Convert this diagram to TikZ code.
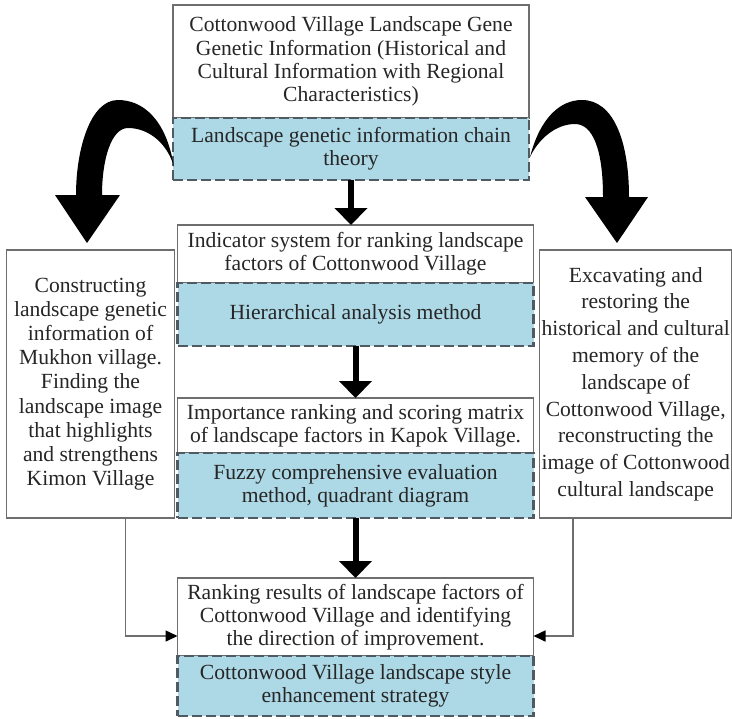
\documentclass[tikz,border=0pt]{standalone}
\usepackage{fontspec}
\setmainfont{Liberation Serif}
\usepackage{xcolor}
\definecolor{cLine}{HTML}{6E6E6E}
\definecolor{cDash}{HTML}{505A63}
\definecolor{cFill}{HTML}{ADD8E6}
\definecolor{cText}{HTML}{262626}
\usepackage{tikz}
\usetikzlibrary{positioning,arrows.meta,calc}
\tikzset{
  node-info/.style={draw=cLine,line width=0.7pt,fill=white,minimum width=178pt,
    inner sep=1pt,outer sep=0pt,align=center,text=cText,font=\fontsize{10.8}{11.6}\selectfont},
  node-method/.style={node-info,draw=cDash,fill=cFill,line width=1.1pt,
    dash pattern=on 5pt off 2pt},
  node-side/.style={node-info,minimum height=134pt},
  arrow-fat/.style={-{Triangle[length=8.5pt,width=16pt]},line width=3pt,draw=black},
  arrow-thin/.style={-{Triangle[length=6pt,width=5.5pt,color=black]},line width=0.8pt,draw=cLine},
  % 两侧的弯曲粗箭头
  arrow-bend/.style={fill=black,draw=none},
}

\begin{document}
\begin{tikzpicture}[x=0.5pt,y=-0.5pt,node distance=0pt]
  \useasboundingbox (0,0) rectangle (732,718);
  \node[node-info,minimum height=56.5pt,anchor=north] (g1) at (351,5)
    {Cottonwood Village Landscape Gene\\Genetic Information (Historical and\\Cultural Information with Regional\\Characteristics)};
  \node[node-method,minimum height=31pt,below=of g1] (m1) {Landscape genetic information chain\\theory};
  \node[node-info,minimum height=29pt,below=22.5pt of m1,xshift=2.25pt] (g2)
    {Indicator system for ranking landscape\\factors of Cottonwood Village};
  \node[node-method,minimum height=31.5pt,below=of g2] (m2) {Hierarchical analysis method};
  \node[node-info,minimum height=27.5pt,below=26pt of m2] (g3)
    {Importance ranking and scoring matrix\\of landscape factors in Kapok Village.};
  \node[node-method,minimum height=32.5pt,below=of g3] (m3) {Fuzzy comprehensive evaluation\\method, quadrant diagram};
  \node[node-info,minimum height=39pt,below=30pt of m3] (g4)
    {Ranking results of landscape factors of\\Cottonwood Village and identifying\\the direction of improvement.};
  \node[node-method,minimum height=30pt,below=of g4] (m4) {Cottonwood Village landscape style\\enhancement strategy};
  \node[node-side,minimum width=84pt,anchor=south east,font=\fontsize{10.8}{12.1}\selectfont] (lside)
    at ([xshift=-1.5pt]m3.south west)
    {Constructing\\landscape genetic\\information of\\Mukhon village.\\Finding the\\landscape image\\that highlights\\and strengthens\\Kimon Village};
  \node[node-side,minimum width=96pt,anchor=south west,font=\fontsize{10.8}{13.4}\selectfont] (rside)
    at ([xshift=3pt]m3.south east)
    {Excavating and\\restoring the\\historical and cultural\\memory of the\\landscape of\\Cottonwood Village,\\reconstructing the\\image of Cottonwood\\cultural landscape};
  \draw[arrow-fat] (m1.south) -- (m1.south |- g2.north);
  \draw[arrow-fat] (m2.south) -- (g3.north);
  \draw[arrow-fat] (m3.south) -- (g4.north);
  \draw[arrow-thin] ([xshift=17.5pt]lside.south) |- ([yshift=-9.5pt]g4.west);
  \draw[arrow-thin] ([xshift=-31.5pt]rside.south) |- ([yshift=-9.5pt]g4.east);
  \fill[arrow-bend] (174,167) .. controls (166,118) and (142,100) .. (118,100)
    .. controls (90,100) and (76,150) .. (76,195) -- (55,195) -- (87,243) -- (120,195) -- (102,195)
    .. controls (102,160) and (111,128) .. (128,128) .. controls (150,128) and (168,145) .. cycle;
  \fill[arrow-bend] (530,157) .. controls (540,118) and (560,100) .. (582,100)
    .. controls (613,100) and (629,140) .. (629,197) -- (648,197) -- (617,243) -- (585,197) -- (603,197)
    .. controls (603,150) and (593,124) .. (575,124) .. controls (555,124) and (538,140) .. cycle;
\end{tikzpicture}
\end{document}
